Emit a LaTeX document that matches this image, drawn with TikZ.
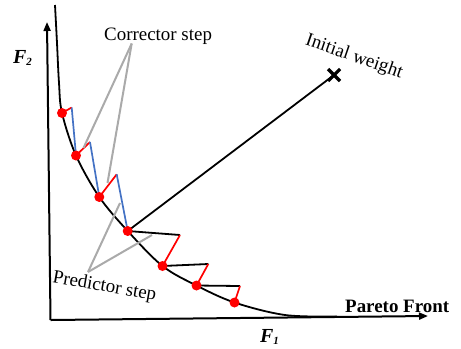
\documentclass[tikz,border=0pt]{standalone}
\usepackage{fontspec}
\setmainfont{Liberation Serif}
\usetikzlibrary{arrows.meta,calc}
\definecolor{corrblue}{RGB}{68,114,196}
\definecolor{guidegray}{RGB}{170,170,170}
\begin{document}
\begin{tikzpicture}[x=1bp,y=-1bp,
  dot/.style={circle,fill=red,inner sep=0pt,minimum size=10bp},
  blk/.style={line width=1.8bp,black},
  corr/.style={line width=1.7bp,color=corrblue},
  pred/.style={line width=1.7bp,red},
  guide/.style={line width=2bp,color=guidegray},
  lbl/.style={font=\fontsize{19}{22}\selectfont,inner sep=0pt},
  axisline/.style={line width=2bp,-{Triangle[length=9bp,width=7bp]}}]
\useasboundingbox (0,0) rectangle (461,348);
% axes
\coordinate (O) at (50.5,320);
\coordinate (Ytip) at (47,22);
\coordinate (Xtip) at (428,316);
\draw[axisline] (O) -- (Ytip);
\draw[axisline] (O) -- (Xtip);
% points
\coordinate (p1) at (62,113);
\coordinate (p2) at (76,155.5);
\coordinate (p3) at (99.3,197);
\coordinate (p4) at (127.7,231);
\coordinate (p5) at (162.5,266);
\coordinate (p6) at (196.5,285.5);
\coordinate (p7) at (234.5,302.5);
\coordinate (a1) at (71.7,107.5);
\coordinate (a2) at (90,142);
\coordinate (a3) at (116.7,174.3);
\coordinate (b1) at (180,235);
\coordinate (b2) at (208.3,264);
\coordinate (b3) at (240,286);
\coordinate (W) at (334,75);
% Pareto curve
\draw[blk] plot[smooth,tension=0.55] coordinates {(55,5) (57,43) (59,83) (p1) (p2) (p3) (p4) (p5) (p6) (p7) (285,315) (337,316.5)};
% weight line
\draw[blk] (p4) -- (W);
\draw[line width=3.2bp] ($(W)+(-6,-6)$) -- ($(W)+(6,6)$);
\draw[line width=3.2bp] ($(W)+(-6,6)$) -- ($(W)+(6,-6)$);
% corrector (upper)
\draw[pred] (p1) -- (a1);
\draw[corr] (a1) -- (p2);
\draw[pred] (p2) -- (a2);
\draw[corr] (a2) -- (p3);
\draw[pred] (p3) -- (a3);
\draw[corr] (a3) -- (p4);
% predictor (lower)
\draw[blk] (p4) -- (b1);
\draw[pred] (b1) -- (p5);
\draw[blk] (p5) -- (b2);
\draw[pred] (b2) -- (p6);
\draw[blk] (p6) -- (b3);
\draw[pred] (b3) -- (p7);
% guide lines
\coordinate (cA) at (131.7,43.5);
\coordinate (c1) at (83.5,148);
\coordinate (c2) at (107.5,183);
\coordinate (pA) at (88,272);
\coordinate (q1) at (120,203);
\coordinate (q2) at (152,235);
\draw[guide] (cA) -- (c1);
\draw[guide] (cA) -- (c2);
\draw[guide] (pA) -- (q1);
\draw[guide] (pA) -- (q2);
% dots
\foreach \i in {1,...,7} \node[dot] (d\i) at (p\i) {};
% labels
\node[lbl,anchor=base west] (corrlbl) at (104,40) {Corrector step};
\node[lbl,rotate=-10] (predlbl) at (104.5,287) {Predictor step};
\node[lbl,rotate=-19] (wlbl) at (354,57) {Initial weight};
\node[lbl,anchor=base west,font=\fontsize{19}{22}\selectfont\bfseries] (pflbl) at (345,312) {Pareto Front};
\node[lbl,anchor=base west,font=\fontsize{20}{22}\selectfont\bfseries\itshape] (f2lbl) at (13,63) {F\raisebox{-0.25ex}{\fontsize{11}{12}\selectfont 2}};
\node[lbl,anchor=base west,font=\fontsize{20}{22}\selectfont\bfseries\itshape] (f1lbl) at (260,342) {F\raisebox{-0.25ex}{\fontsize{11}{12}\selectfont 1}};
\end{tikzpicture}
\end{document}
